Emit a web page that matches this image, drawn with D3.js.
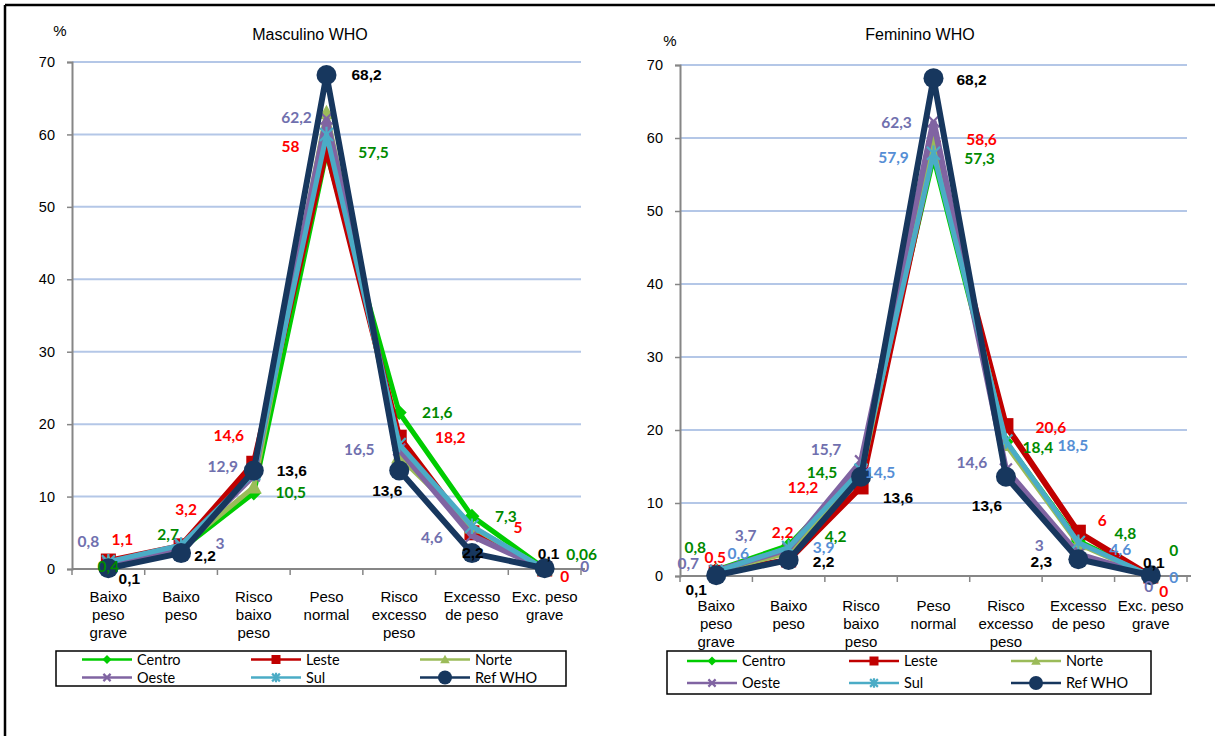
<!DOCTYPE html>
<html>
<head>
<meta charset="utf-8">
<script src="https://cdn.jsdelivr.net/npm/d3@7"></script>
<style>
  body { margin: 0; background: #fff; }
  svg { display: block; }
</style>
</head>
<body>
<svg id="chart" width="1215" height="736"></svg>
<script>
// BMI classes (WHO reference) by region, boys and girls, %
const categories = ["Baixo peso grave", "Baixo peso", "Risco baixo peso", "Peso normal",
                    "Risco excesso peso", "Excesso de peso", "Exc. peso grave"];
const categoryLines = [["Baixo", "peso", "grave"], ["Baixo", "peso"], ["Risco", "baixo", "peso"],
                       ["Peso", "normal"], ["Risco", "excesso", "peso"], ["Excesso", "de peso"], ["Exc. peso", "grave"]];
const seriesNames = ["Centro", "Leste", "Norte", "Oeste", "Sul", "Ref WHO"];
const yTicks = [0, 10, 20, 30, 40, 50, 60, 70];

// Masculino
const mascCentro = [0.4, 2.7, 10.5, 57.5, 21.6, 7.3, 0.06];
const mascLeste  = [1.1, 3.2, 14.6, 58, 18.2, 5, 0];
const mascNorte  = [0.9, 3.0, 11.3, 63, 15.5, 5.8, 0];
const mascOeste  = [0.8, 3, 12.9, 62.2, 16.5, 4.6, 0];
const mascSul    = [1.0, 3.3, 13.2, 60, 17.2, 5.9, 0];
const mascWHO    = [0.1, 2.2, 13.6, 68.2, 13.6, 2.2, 0.1];

// Feminino
const femCentro = [0.8, 4.2, 14.5, 57.3, 18.4, 4.8, 0];
const femLeste  = [0.5, 2.2, 12.2, 58.6, 20.6, 6, 0];
const femNorte  = [0.6, 3.2, 13.8, 59.5, 18.0, 4.4, 0];
const femOeste  = [0.7, 3.7, 15.7, 62.3, 14.6, 3, 0];
const femSul    = [0.6, 3.9, 14.5, 57.9, 18.5, 4.6, 0];
const femWHO    = [0.1, 2.2, 13.6, 68.2, 13.6, 2.3, 0.1];

// Which points carry a value label (series -> per category), null = no label
const mascLabelled = {
  "Centro": [1, 1, 1, 1, 1, 1, 1], "Leste": [1, 1, 1, 1, 1, 1, 1], "Norte": null,
  "Oeste": [1, 1, 1, 1, 1, 1, 1], "Sul": null, "Ref WHO": [1, 1, 1, 1, 1, 1, 1]
};
const femLabelled = {
  "Centro": [1, 1, 1, 1, 1, 1, 1], "Leste": [1, 1, 1, 1, 1, 1, 1], "Norte": null,
  "Oeste": [1, 1, 1, 1, 1, 1, 1], "Sul": [1, 1, 1, 1, 1, 1, 1], "Ref WHO": [1, 1, 1, 1, 1, 1, 1]
};

// Label placement (dx, dy from the point, in px)
const mascLabelPos = {
  "Centro":  [[0, 0], [-13, -15], [37, 0], [47, 0], [38, 0], [34, 0], [37, -14]],
  "Leste":   [[14, -21], [5, -36], [-25, -28], [-36, -2], [51, 0], [46, -5], [20, 8]],
  "Oeste":   [[-20, -22], [39, -4], [-31, -9], [-30, -1], [-40, 0], [-40, 2], [40, -2]],
  "Ref WHO": [[21, 10], [24, 3], [38, 0], [40, 0], [-12, 20], [1, 0], [4, -15]]
};
const femLabelPos = {
  "Centro":  [[-21, -23], [47, -9], [-39, 2], [46, 1], [32, 6], [47, -7], [23, -25]],
  "Leste":   [[-1, -15], [-6, -27], [-58, 1], [48, -9], [45, 2], [24, -12], [13, 16]],
  "Oeste":   [[-28, -7], [-43, -13], [-35, -12], [-37, 1], [-34, -7], [-39, -9], [-2, 11]],
  "Sul":     [[22, -18], [35, 0], [19, 2], [-40, 4], [67, 5], [42, 7], [23, 2]],
  "Ref WHO": [[-20, 14], [35, 2], [37, 21], [38, 1], [-19, 29], [-37, 2], [3, -13]]
};

const lineColor = {
  "Centro": "#00cc00", "Leste": "#c00000", "Norte": "#9bbb59",
  "Oeste": "#8064a2", "Sul": "#4bacc6", "Ref WHO": "#17375e"
};
const labelColor = {
  "Centro": "#008a00", "Leste": "#ff0000", "Norte": "#76923c",
  "Oeste": "#7070ae", "Sul": "#558ed5", "Ref WHO": "#000000"
};
const lineWidth = { "Centro": 5, "Leste": 6, "Norte": 5, "Oeste": 6, "Sul": 5, "Ref WHO": 6 };

const svg = d3.select("#chart");

// outer frame (top and left edges)
svg.append("line").attr("x1", 5).attr("y1", 5).attr("x2", 1215).attr("y2", 5)
  .attr("stroke", "#000").attr("stroke-width", 2.5);
svg.append("line").attr("x1", 5).attr("y1", 5).attr("x2", 5).attr("y2", 736)
  .attr("stroke", "#000").attr("stroke-width", 2.5);

function fmt(v) { return String(v).replace(".", ","); }

function drawMarker(g, name, x, y, legend) {
  const c = lineColor[name];
  const s = legend ? 0.6 : 1;
  if (name === "Centro") {
    const r = 7.5 * s;
    g.append("path").attr("d", `M${x},${y - r}L${x + r},${y}L${x},${y + r}L${x - r},${y}Z`).attr("fill", c);
  } else if (name === "Leste") {
    const h = 7.5 * s;
    g.append("rect").attr("x", x - h).attr("y", y - h).attr("width", 2 * h).attr("height", 2 * h).attr("fill", c);
  } else if (name === "Norte") {
    const h = 8 * s;
    g.append("path").attr("d", `M${x},${y - h}L${x + h},${y + h * 0.8}L${x - h},${y + h * 0.8}Z`).attr("fill", c);
  } else if (name === "Oeste") {
    const h = 6 * s;
    g.append("path").attr("d", `M${x - h},${y - h}L${x + h},${y + h}M${x - h},${y + h}L${x + h},${y - h}`)
      .attr("stroke", c).attr("stroke-width", 2.2);
  } else if (name === "Sul") {
    const h = 6.5 * s;
    g.append("path").attr("d", `M${x - h},${y - h}L${x + h},${y + h}M${x - h},${y + h}L${x + h},${y - h}M${x},${y - h * 1.2}L${x},${y + h * 1.2}`)
      .attr("stroke", c).attr("stroke-width", 2.2);
  } else {
    g.append("circle").attr("cx", x).attr("cy", y).attr("r", (legend ? 7 : 10)).attr("fill", c);
  }
}

function drawPanel(p) {
  const g = svg.append("g");
  const x = d3.scaleBand().domain(categories).range([p.x0, p.x1]);
  const y = d3.scaleLinear().domain([0, 70]).range([p.yBottom, p.yTop]);
  const cx = c => x(c) + x.bandwidth() / 2;

  // gridlines
  g.selectAll(".grid").data(yTicks.filter(t => t > 0)).join("line")
    .attr("x1", p.x0).attr("x2", p.x1).attr("y1", d => y(d)).attr("y2", d => y(d))
    .attr("stroke", "#b4c7e7").attr("stroke-width", 2);

  // y axis
  const ya = g.append("g").attr("transform", `translate(${p.x0},0)`)
    .call(d3.axisLeft(y).tickValues(yTicks).tickSize(5).tickPadding(12));
  ya.select(".domain").attr("stroke", "#868686").attr("stroke-width", 2);
  ya.selectAll(".tick line").attr("stroke", "#868686").attr("stroke-width", 1.5);
  ya.selectAll(".tick text").attr("font-family", "Liberation Sans, Arial, sans-serif")
    .attr("font-size", 14.5).attr("fill", "#000");

  // x axis
  const xa = g.append("g").attr("transform", `translate(0,${p.yBottom})`);
  xa.append("line").attr("x1", p.x0).attr("x2", p.x1 + 4).attr("stroke", "#868686").attr("stroke-width", 2);
  const edges = categories.map(c => x(c)).concat([p.x1]);
  xa.selectAll(".xt").data(edges).join("line")
    .attr("x1", d => d).attr("x2", d => d).attr("y1", 0).attr("y2", 6)
    .attr("stroke", "#868686").attr("stroke-width", 1.5);
  categories.forEach((c, i) => {
    const t = xa.append("text").attr("x", cx(c)).attr("y", p.catDy)
      .attr("text-anchor", "middle").attr("font-family", "Liberation Sans, Arial, sans-serif")
      .attr("font-size", 15).attr("fill", "#000");
    categoryLines[i].forEach((ln, k) => {
      t.append("tspan").attr("x", cx(c)).attr("dy", k === 0 ? 0 : 18).text(ln);
    });
  });

  // title and unit
  g.append("text").attr("x", p.titleX).attr("y", 40).attr("text-anchor", "middle")
    .attr("font-family", "Liberation Sans, Arial, sans-serif").attr("font-size", 16).text(p.title);
  g.append("text").attr("x", p.pctX).attr("y", p.pctY).attr("text-anchor", "middle")
    .attr("font-family", "Liberation Sans, Arial, sans-serif").attr("font-size", 15).text("%");

  // lines + markers
  const line = d3.line().x((d, i) => cx(categories[i])).y(d => y(d));
  seriesNames.forEach((name, si) => {
    const vals = p.series[si];
    g.append("path").datum(vals).attr("d", line).attr("fill", "none")
      .attr("stroke", lineColor[name]).attr("stroke-width", lineWidth[name])
      .attr("stroke-linejoin", "miter");
    const mg = g.append("g");
    vals.forEach((v, i) => drawMarker(mg, name, cx(categories[i]), y(v), false));
  });

  // value labels
  seriesNames.forEach((name, si) => {
    const lab = p.labelled[name];
    if (!lab) return;
    const vals = p.series[si];
    const pos = p.labelPos[name];
    vals.forEach((v, i) => {
      if (!lab[i]) return;
      const isRef = name === "Ref WHO";
      g.append("text")
        .attr("x", cx(categories[i]) + pos[i][0])
        .attr("y", y(v) + pos[i][1])
        .attr("dy", "0.35em").attr("text-anchor", "middle")
        .attr("font-family", isRef ? "Liberation Sans, Arial, sans-serif" : "Lato, Open Sans, sans-serif")
        .attr("font-weight", "bold").attr("font-size", isRef ? 15.5 : 15.5)
        .attr("fill", labelColor[name]).text(fmt(v));
    });
  });

  // legend
  const L = p.legend;
  g.append("rect").attr("x", L.x).attr("y", L.y).attr("width", L.w).attr("height", L.h)
    .attr("fill", "#fff").attr("stroke", "#000").attr("stroke-width", 1.5);
  seriesNames.forEach((name, i) => {
    const col = i % 3, row = Math.floor(i / 3);
    const lx = L.x + L.first + col * L.colW;
    const ly = L.y + L.rowY0 + row * L.rowH;
    g.append("line").attr("x1", lx).attr("x2", lx + 50).attr("y1", ly).attr("y2", ly)
      .attr("stroke", lineColor[name]).attr("stroke-width", 2.5);
    drawMarker(g, name, lx + 25, ly, true);
    g.append("text").attr("x", lx + 55).attr("y", ly).attr("dy", "0.35em")
      .attr("font-family", "Lato, Open Sans, sans-serif").attr("font-size", 14.5).text(name);
  });
}

drawPanel({
  title: "Masculino WHO", titleX: 310, pctX: 60, pctY: 36,
  x0: 72, x1: 581, yTop: 62, yBottom: 569, catDy: 33,
  series: [mascCentro, mascLeste, mascNorte, mascOeste, mascSul, mascWHO],
  labelled: mascLabelled, labelPos: mascLabelPos,
  legend: { x: 56, y: 651, w: 510, h: 35, first: 26, colW: 169, rowY0: 8.5, rowH: 18 }
});

drawPanel({
  title: "Feminino WHO", titleX: 920, pctX: 670, pctY: 46,
  x0: 680, x1: 1187, yTop: 65, yBottom: 576, catDy: 35,
  series: [femCentro, femLeste, femNorte, femOeste, femSul, femWHO],
  labelled: femLabelled, labelPos: femLabelPos,
  legend: { x: 667, y: 651, w: 484, h: 43, first: 20, colW: 162, rowY0: 10, rowH: 22 }
});
</script>
</body>
</html>
